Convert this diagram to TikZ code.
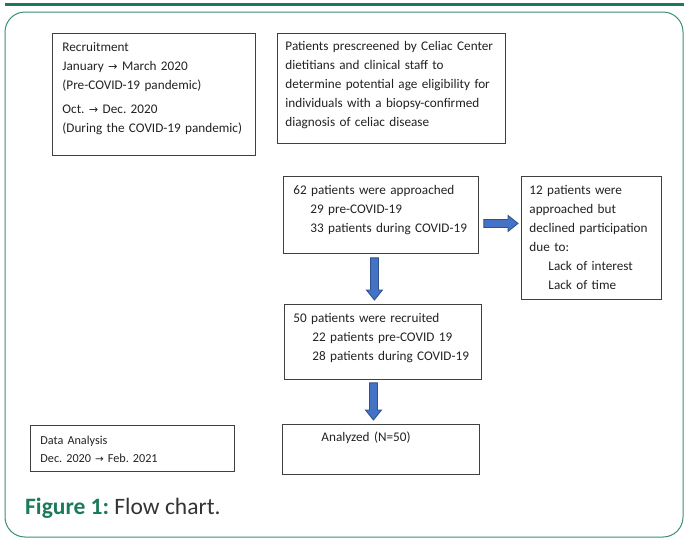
\documentclass[tikz,border=0pt]{standalone}
\usepackage{fontspec}
\setmainfont{Carlito}
\newfontfamily\symfont[Scale=0.85]{DejaVu Sans}
\usetikzlibrary{calc}
\frenchspacing
\definecolor{figgreen}{HTML}{1B7A5C}
\definecolor{framegreen}{HTML}{3C8F74}
\definecolor{arrowfill}{HTML}{4472C4}
\definecolor{arrowline}{HTML}{2F528F}
\definecolor{boxtext}{HTML}{222222}
\newcommand{\rarr}{{\symfont →}}
% block arrows: start point, tip point
\def\rightblock(#1)(#2){\draw[blockarrow] ($(#1)+(0,-4)$) -- ($(#2)+(-10,-4)$) -- ($(#2)+(-10,-8)$) -- (#2) -- ($(#2)+(-10,8)$) -- ($(#2)+(-10,4)$) -- ($(#1)+(0,4)$) -- cycle;}
\def\downblock(#1)(#2){\draw[blockarrow] ($(#1)+(-4,0)$) -- ($(#2)+(-4,-10)$) -- ($(#2)+(-8,-10)$) -- (#2) -- ($(#2)+(8,-10)$) -- ($(#2)+(4,-10)$) -- ($(#1)+(4,0)$) -- cycle;}

\begin{document}
\begin{tikzpicture}[x=1pt, y=-1pt,
		box/.style={draw=black!75, line width=0.9pt, anchor=north west, align=left, inner ysep=0pt, text=boxtext, font=\fontsize{13.2}{19}\selectfont},
		blockarrow/.style={fill=arrowfill, draw=arrowline, line width=0.9pt}]
		%%%%% START %%%%%
		
		\useasboundingbox (0,0) rectangle (684,539);
		
		\draw[figgreen, line width=3pt] (5,4) -- (684,4);
		\draw[framegreen, line width=1pt, rounded corners=20pt] (5,12) rectangle (683,537);
		
		\node[box, inner xsep=10pt, text width=183pt, text height=18pt, text depth=104pt] (recruit) at (52,33)
			{Recruitment\\ January \rarr{} March 2020\\ (Pre-COVID-19 pandemic)\\[5pt] Oct. \rarr{} Dec. 2020\\ (During the COVID-19 pandemic)};
		\node[box, inner xsep=8pt, text width=212pt, text height=17pt, text depth=93pt] (prescreen) at (277,33)
			{Patients prescreened by Celiac Center\\ dietitians and clinical staff to\\ determine potential age eligibility for\\ individuals with a biopsy-confirmed\\ diagnosis of celiac disease};
		
		\node[box, inner xsep=10pt, text width=175pt, text height=18pt, text depth=59pt] (approach) at (283,176)
			{62 patients were approached\\ \hspace*{17pt}29 pre-COVID-19\\ \hspace*{17pt}33 patients during COVID-19};
		\node[box, inner xsep=8pt, text width=124pt, text height=18pt, text depth=105pt] (decline) at (521,176)
			{12 patients were\\ approached but\\ declined participation\\ due to:\\ \hspace*{19pt}Lack of interest\\ \hspace*{19pt}Lack of time};
		
		\node[box, inner xsep=9pt, text width=179pt, text height=18pt, text depth=57pt] (recruited) at (284,304)
			{50 patients were recruited\\ \hspace*{19pt}22 patients pre-COVID 19\\ \hspace*{19pt}28 patients during COVID-19};
		\node[box, inner xsep=9pt, text width=179pt, text height=17pt, text depth=33pt] (analyzed) at (282,424)
			{\hspace*{30pt}Analyzed (N=50)};
		
		\node[box, inner xsep=10pt, text width=184pt, text height=19pt, text depth=27pt, font=\fontsize{12.2}{18}\selectfont] (analysis) at (30,425)
			{Data Analysis\\ Dec. 2020 \rarr{} Feb. 2021};
		
		\coordinate (a1s) at ($(approach.east)+(5,8.5)$);
		\coordinate (a1e) at ($(decline.west |- a1s)+(-3,0)$);
		\rightblock(a1s)(a1e)
		
		\coordinate (a2s) at ($(approach.south)+(-6.5,4)$);
		\coordinate (a2e) at ($(a2s |- recruited.north)+(0,-4)$);
		\downblock(a2s)(a2e)
		
		\coordinate (a3s) at ($(recruited.south)+(-9.5,3)$);
		\coordinate (a3e) at ($(a3s |- analyzed.north)+(0,-4)$);
		\downblock(a3s)(a3e)
		
		\node[anchor=west, inner sep=0pt, text=black!80, font=\fontsize{23.5}{28}\selectfont] (caption) at (25,508)
			{\textcolor{figgreen}{\bfseries Figure 1:} Flow chart.};
		
		%%%%% END %%%%%
	\end{tikzpicture}
\end{document}
